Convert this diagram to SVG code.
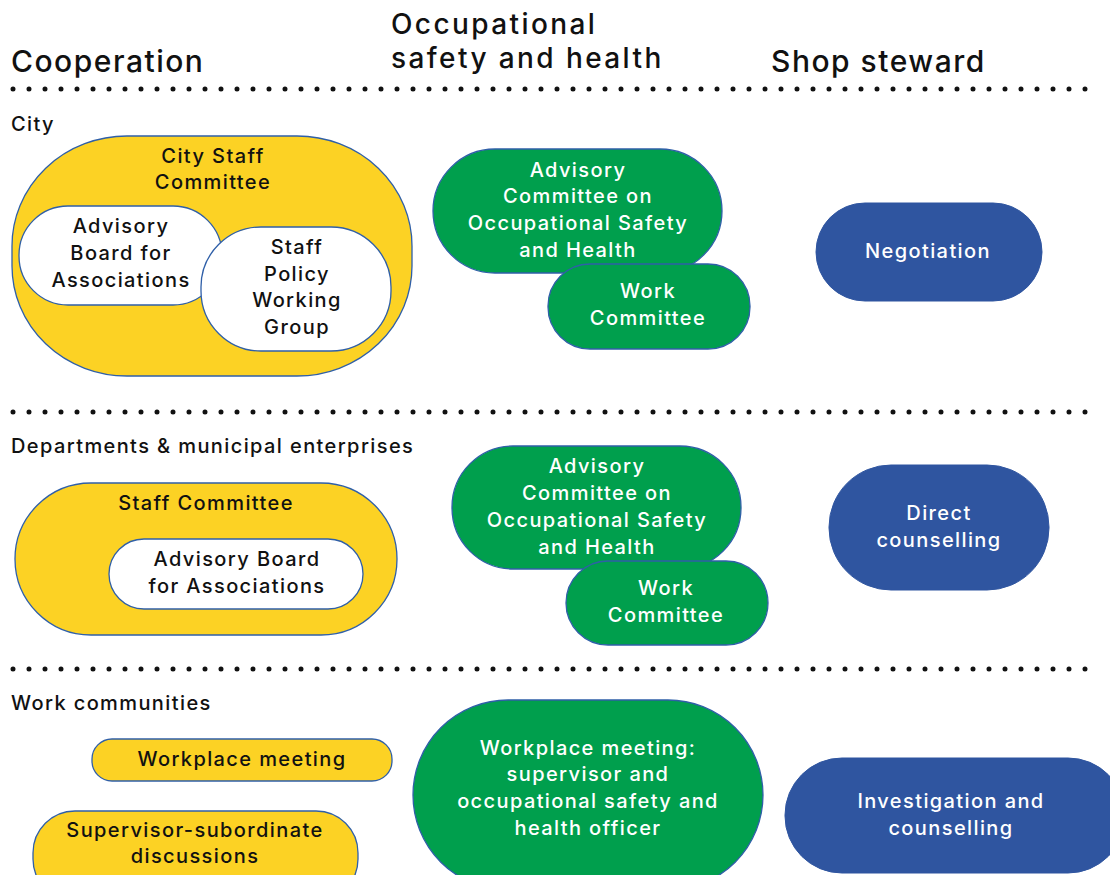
<svg xmlns="http://www.w3.org/2000/svg" width="1110" height="875" viewBox="0 0 1110 875">
<style>
.hdr{font-family:"Inter","Open Sans","Liberation Sans",sans-serif;font-size:30px;font-weight:500;letter-spacing:1.5px;fill:#111}
.hdr2{font-family:"Inter","Open Sans","Liberation Sans",sans-serif;font-size:28px;font-weight:500;letter-spacing:2.4px;fill:#111}
.lvl{font-family:"Inter","Open Sans","Liberation Sans",sans-serif;font-size:20px;font-weight:500;letter-spacing:1.4px;fill:#111}
.t{font-family:"Inter","Open Sans","Liberation Sans",sans-serif;font-size:20px;font-weight:500;letter-spacing:1.4px;text-anchor:middle}
.dk{fill:#111}
.wh{fill:#fff}
.yel{fill:#FCD224;stroke:#2F5FA8;stroke-width:1.3}
.wht{fill:#fff;stroke:#2F5FA8;stroke-width:1.3}
.grn{fill:#009F4D;stroke:#2F5FA8;stroke-width:1.3}
.blu{fill:#2F55A0;stroke:#2F55A0;stroke-width:1}
.dots{stroke:#111;stroke-width:5;stroke-linecap:round;stroke-dasharray:0 16;fill:none}
</style>

<g id="headers">
<text class="hdr" x="11" y="72">Cooperation</text>
<text class="hdr2" x="391" y="34">Occupational</text>
<text class="hdr2" x="391" y="68">safety and health</text>
<text class="hdr" x="771" y="72">Shop steward</text>
</g>

<g id="separators">
<line class="dots" x1="13" y1="89" x2="1090" y2="89"/>
<line class="dots" x1="13" y1="412" x2="1090" y2="412"/>
<line class="dots" x1="13" y1="669" x2="1090" y2="669"/>
</g>

<g id="level-labels">
<text class="lvl" x="11" y="131">City</text>
<text class="lvl" x="11" y="453">Departments &amp; municipal enterprises</text>
<text class="lvl" x="11" y="710">Work communities</text>
</g>

<g id="city-staff-committee">
<rect class="yel" x="12" y="136" width="400" height="240" rx="115" ry="110"/>
<text class="t dk" x="213" y="163">City Staff</text>
<text class="t dk" x="213" y="189">Committee</text>
</g>
<g id="city-advisory-board">
<rect class="wht" x="19" y="206" width="203" height="99" rx="49"/>
<text class="t dk" x="121" y="233">Advisory</text>
<text class="t dk" x="121" y="260">Board for</text>
<text class="t dk" x="121" y="287">Associations</text>
</g>
<g id="staff-policy-working-group">
<rect class="wht" x="201" y="227" width="190" height="124" rx="60"/>
<text class="t dk" x="297" y="254">Staff</text>
<text class="t dk" x="297" y="281">Policy</text>
<text class="t dk" x="297" y="307">Working</text>
<text class="t dk" x="297" y="334">Group</text>
</g>

<g id="city-osh-committee">
<rect class="grn" x="433" y="149" width="289" height="124" rx="62"/>
<text class="t wh" x="578" y="177">Advisory</text>
<text class="t wh" x="578" y="203">Committee on</text>
<text class="t wh" x="578" y="230">Occupational Safety</text>
<text class="t wh" x="578" y="257">and Health</text>
</g>
<g id="city-work-committee">
<rect class="grn" x="548" y="264" width="202" height="85" rx="42"/>
<text class="t wh" x="648" y="298">Work</text>
<text class="t wh" x="648" y="325">Committee</text>
</g>

<g id="negotiation">
<rect class="blu" x="816" y="203" width="226" height="98" rx="49"/>
<text class="t wh" x="928" y="258">Negotiation</text>
</g>

<g id="staff-committee">
<rect class="yel" x="15" y="483" width="382" height="152" rx="76"/>
<text class="t dk" x="206" y="510">Staff Committee</text>
</g>
<g id="dept-advisory-board">
<rect class="wht" x="109" y="539" width="254" height="70" rx="35"/>
<text class="t dk" x="237" y="566">Advisory Board</text>
<text class="t dk" x="237" y="593">for Associations</text>
</g>

<g id="dept-osh-committee">
<rect class="grn" x="452" y="446" width="289" height="123" rx="61"/>
<text class="t wh" x="597" y="473">Advisory</text>
<text class="t wh" x="597" y="500">Committee on</text>
<text class="t wh" x="597" y="527">Occupational Safety</text>
<text class="t wh" x="597" y="554">and Health</text>
</g>
<g id="dept-work-committee">
<rect class="grn" x="566" y="561" width="202" height="84" rx="42"/>
<text class="t wh" x="666" y="595">Work</text>
<text class="t wh" x="666" y="622">Committee</text>
</g>

<g id="direct-counselling">
<rect class="blu" x="829" y="465" width="220" height="125" rx="62"/>
<text class="t wh" x="939" y="520">Direct</text>
<text class="t wh" x="939" y="547">counselling</text>
</g>

<g id="workplace-meeting">
<rect class="yel" x="92" y="739" width="300" height="42" rx="20"/>
<text class="t dk" x="242" y="766">Workplace meeting</text>
</g>
<g id="supervisor-discussions">
<rect class="yel" x="33" y="811" width="325" height="90" rx="42"/>
<text class="t dk" x="195" y="837">Supervisor-subordinate</text>
<text class="t dk" x="195" y="863">discussions</text>
</g>

<g id="workplace-meeting-osh">
<rect class="grn" x="413" y="700" width="350" height="190" rx="95"/>
<text class="t wh" x="588" y="755">Workplace meeting:</text>
<text class="t wh" x="588" y="781">supervisor and</text>
<text class="t wh" x="588" y="808">occupational safety and</text>
<text class="t wh" x="588" y="835">health officer</text>
</g>

<g id="investigation-counselling">
<rect class="blu" x="785" y="758" width="340" height="115" rx="57"/>
<text class="t wh" x="951" y="808">Investigation and</text>
<text class="t wh" x="951" y="835">counselling</text>
</g>

<g id="connectors"></g>
</svg>
